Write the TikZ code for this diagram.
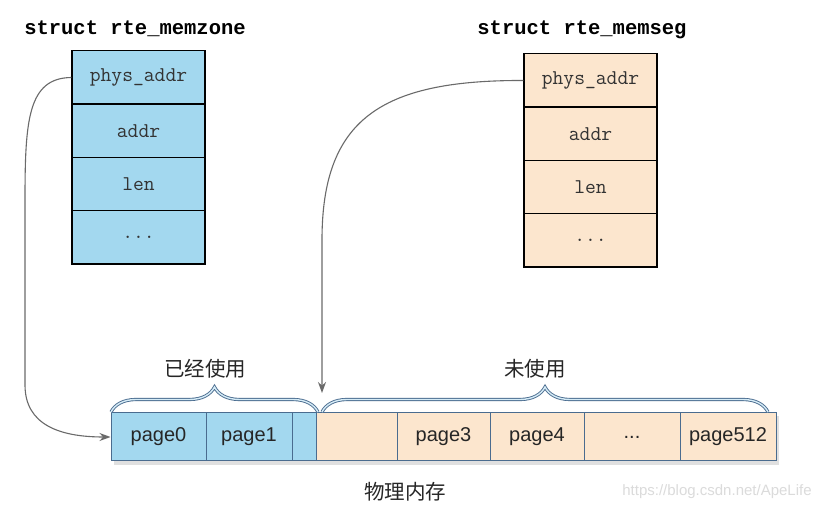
\documentclass[tikz,border=0pt]{standalone}
\usepackage{fontspec}
\setmainfont{Liberation Serif}
\newfontfamily\fieldfont{Latin Modern Mono}
\newfontfamily\titlefont{Liberation Mono}
\newfontfamily\pagefont{Liberation Sans}
\newfontfamily\cjk{Noto Sans CJK SC}
\usetikzlibrary{decorations.pathreplacing,arrows.meta}
\definecolor{zoneblue}{HTML}{A3D8EF}
\definecolor{segorange}{HTML}{FCE6CE}
\definecolor{barline}{HTML}{4A6C8F}
\definecolor{bracefill}{HTML}{D6ECF7}
\definecolor{arrowgray}{HTML}{6A6A6A}
\tikzset{
  field/.style={draw=black, line width=1.3pt, minimum width=133pt, minimum height=53.3pt, inner sep=0pt,
    font=\fieldfont\fontsize{21}{23}\selectfont, text=black!80},
  zonefield/.style={field, fill=zoneblue},
  segfield/.style={field, fill=segorange},
  title/.style={font=\titlefont\bfseries\fontsize{20.5}{22}\selectfont, inner sep=0pt},
  pagecell/.style={draw=barline, line width=1pt, minimum height=48pt, inner sep=0pt,
    font=\pagefont\fontsize{20}{22}\selectfont, text=black!85},
  usedcell/.style={pagecell, fill=zoneblue},
  freecell/.style={pagecell, fill=segorange},
  cjklabel/.style={font=\cjk\fontsize{20.5}{22}\selectfont, inner sep=0pt, text=black!85},
  ptr/.style={draw=arrowgray, line width=1.1pt, -{Stealth[length=11pt,width=8pt]}},
  bracedeco/.style={decorate, decoration={brace, amplitude=25pt, aspect=0.5}},
}
\begin{document}
\begin{tikzpicture}[x=1pt,y=-1pt]
\useasboundingbox[fill=white] (0,0) rectangle (825,510);

% struct rte_memzone
\node[title] (ztitle) at (135,29) {struct rte\_memzone};
\node[zonefield] (zphys) at (138.5,77.5) {phys\_addr};
\node[zonefield] (zaddr) at (138.5,131) {addr};
\node[zonefield] (zlen)  at (138.5,184.5) {len};
\node[zonefield] (zdots) at (138.5,237.5) {...};

% struct rte_memseg
\node[title] (stitle) at (582,30) {struct rte\_memseg};
\node[segfield] (sphys) at (590.5,80.5) {phys\_addr};
\node[segfield] (saddr) at (590.5,134) {addr};
\node[segfield] (slen)  at (590.5,187.5) {len};
\node[segfield] (sdots) at (590.5,240.5) {...};

% shadow of memory bar
\fill[black!12] (114,416) rectangle (779,465);

% memory pages
\node[usedcell, minimum width=95pt] (p0) at (158.5,437) {page0};
\node[usedcell, minimum width=86pt] (p1) at (249,437) {page1};
\node[usedcell, minimum width=24pt] (p2) at (304,437) {};
\node[freecell, minimum width=81pt] (p2b) at (356.5,437) {};
\node[freecell, minimum width=93pt] (p3) at (443.5,437) {page3};
\node[freecell, minimum width=94pt] (p4) at (537,437) {page4};
\node[freecell, minimum width=96pt] (pd) at (632,437) {...};
\node[freecell, minimum width=96pt] (p512) at (728,437) {page512};

% braces
\coordinate (ub1) at (111,412);
\coordinate (ub2) at (318,412);
\coordinate (fb1) at (322,412);
\coordinate (fb2) at (768,412);
\draw[bracedeco, draw=barline, line width=3.2pt] (ub1) -- (ub2);
\draw[bracedeco, draw=bracefill, line width=1.4pt] (ub1) -- (ub2);
\draw[bracedeco, draw=barline, line width=3.2pt] (fb1) -- (fb2);
\draw[bracedeco, draw=bracefill, line width=1.4pt] (fb1) -- (fb2);

\node[cjklabel] (used) at (205,369) {已经使用};
\node[cjklabel] (unused) at (535,369) {未使用};
\node[cjklabel] (phys) at (405,492) {物理内存};

% watermark
\node[font=\pagefont\fontsize{15}{17}\selectfont, text=black!14, inner sep=0pt] (wm) at (717,492) {https://blog.csdn.net/ApeLife};

% pointers
\coordinate (freestart) at (322,393);
\draw[ptr] (zphys.west) .. controls (28,78) and (25,120) .. (25,200) -- (25,385)
  .. controls (25,425) and (60,437) .. (p0.west);
\draw[ptr] (sphys.west) .. controls (380,80) and (322,120) .. (322,240) -- (freestart);
\end{tikzpicture}
\end{document}
